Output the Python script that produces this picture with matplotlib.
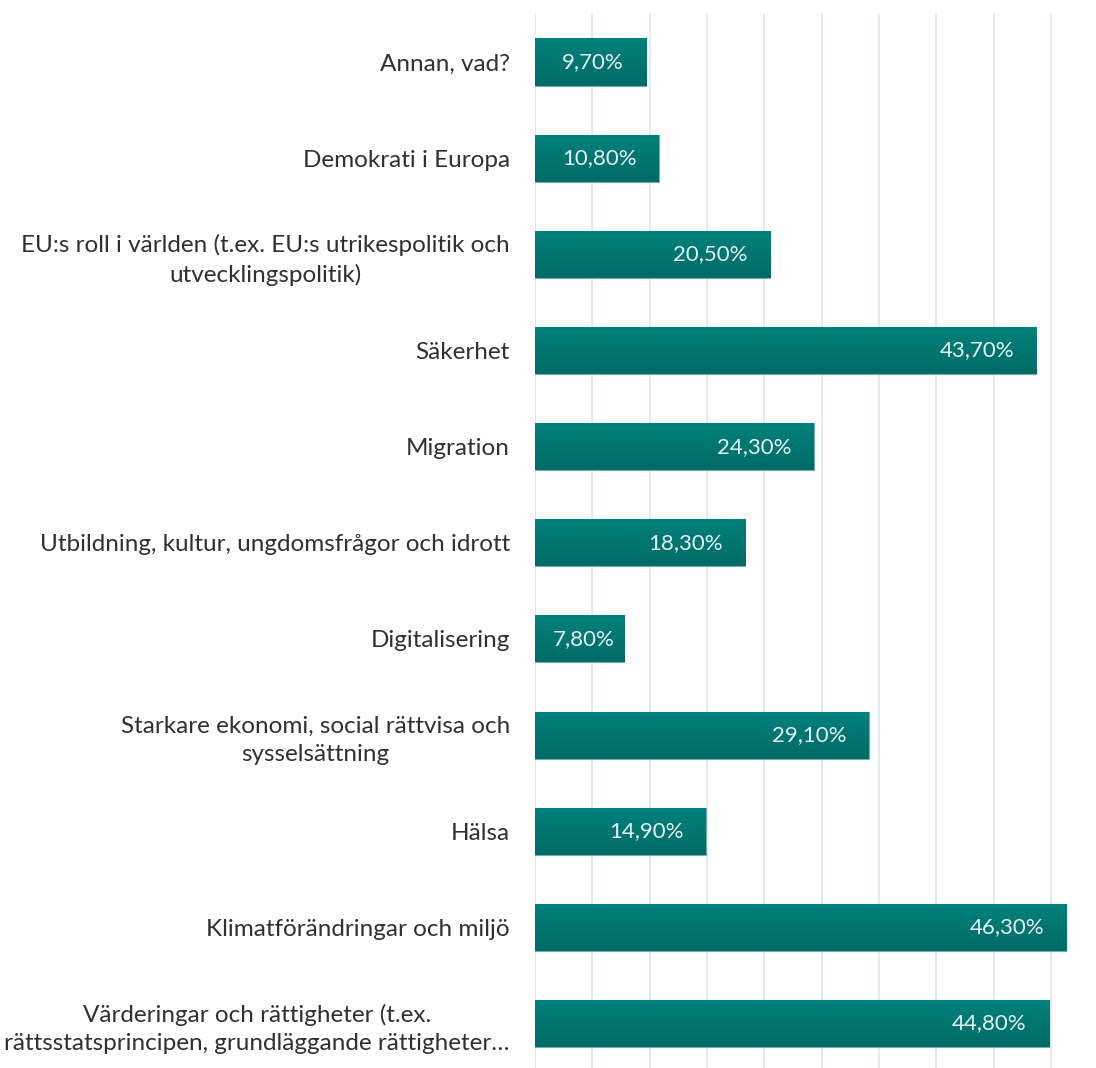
"""Horizontal bar chart of EU topic priorities (share of respondents)."""

import matplotlib

matplotlib.use("Agg")

import matplotlib.pyplot as plt
import numpy as np
from matplotlib.colors import LinearSegmentedColormap


CATEGORIES = [
    "Annan, vad?",
    "Demokrati i Europa",
    "EU:s roll i världen (t.ex. EU:s utrikespolitik och\nutvecklingspolitik)",
    "Säkerhet",
    "Migration",
    "Utbildning, kultur, ungdomsfrågor och idrott",
    "Digitalisering",
    "Starkare ekonomi, social rättvisa och\nsysselsättning",
    "Hälsa",
    "Klimatförändringar och miljö",
    "Värderingar och rättigheter (t.ex.\nrättsstatsprincipen, grundläggande rättigheter…",
]
VALUES = [9.7, 10.8, 20.5, 43.7, 24.3, 18.3, 7.8, 29.1, 14.9, 46.3, 44.8]
XTICKS = [0, 5, 10, 15, 20, 25, 30, 35, 40, 45]

plt.rcParams["font.family"] = ["Lato", "DejaVu Sans"]

fig = plt.figure(figsize=(10.96, 10.68), dpi=100)
ax = fig.add_axes([0.488, -0.007, 0.512, 0.994])

n = len(CATEGORIES)
ypos = np.arange(n)
bars = ax.barh(ypos, VALUES, height=0.49, color="#00756F",
               edgecolor="#6FB3AE", linewidth=0.8, zorder=2)

# vertical gradient inside each bar
cmap = LinearSegmentedColormap.from_list("teal", ["#00827C", "#006A65"])
grad = np.linspace(0, 1, 64).reshape(-1, 1)
for bar in bars:
    x0, y0 = bar.get_x(), bar.get_y()
    w, h = bar.get_width(), bar.get_height()
    im = ax.imshow(grad, cmap=cmap, aspect="auto", origin="upper",
                   extent=[x0, x0 + w, y0 + h, y0], zorder=2.5)
    im.set_clip_path(bar)

ax.set_xlim(0, 48.9)
ax.set_ylim(n - 0.5 + 0.04, -0.5)
ax.set_xticks(XTICKS)
ax.set_xticklabels([])
ax.tick_params(axis="x", length=0)
ax.grid(axis="x", color="#DCE6F2", linewidth=1.2, zorder=0)
ax.set_axisbelow(True)

ax.set_yticks(ypos)
ax.set_yticklabels(CATEGORIES, fontsize=17.5, color="#303030",
                   multialignment="center", linespacing=1.4)
ax.tick_params(axis="y", length=0, pad=18)

for spine in ax.spines.values():
    spine.set_visible(False)

# value labels at the inside end; shift right if they would overflow the bar start
renderer = fig.canvas.get_renderer()
x_zero = ax.transData.transform((0, 0))[0]
for y, v in zip(ypos, VALUES):
    lab = ax.annotate(f"{v:.2f}%".replace(".", ","), xy=(v, y), xytext=(-16, 0),
                      textcoords="offset points", ha="right", va="center",
                      fontsize=16, color="#E6F2F1", zorder=3)
    bb = lab.get_window_extent(renderer)
    min_left = x_zero + 18
    if bb.x0 < min_left:
        shift_pt = (min_left - bb.x0) * 72 / fig.dpi
        lab.set_position((-16 + shift_pt, 0))

fig.savefig("out.png", dpi=100)
